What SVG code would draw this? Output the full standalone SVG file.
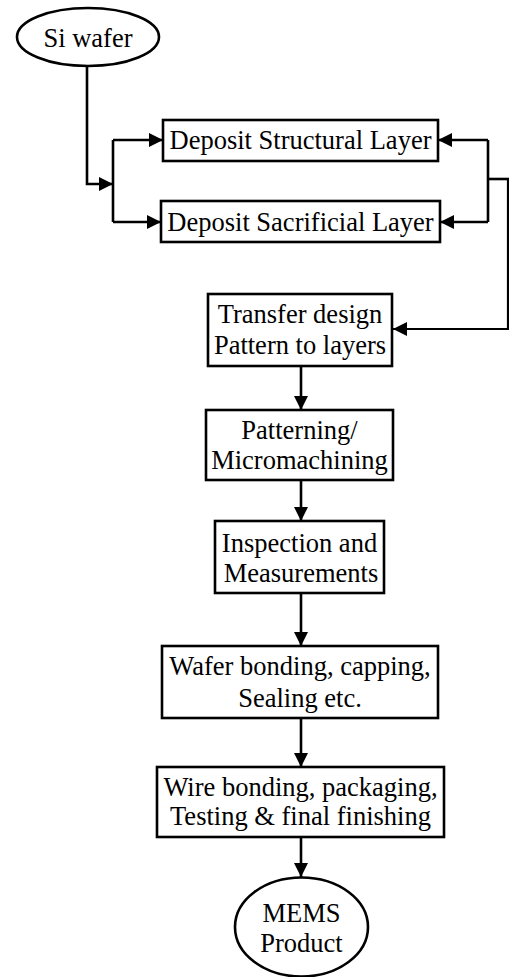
<svg xmlns="http://www.w3.org/2000/svg" width="509" height="977" viewBox="0 0 509 977">
<style>
.box{fill:#fff;stroke:#000;stroke-width:2.6}
.t{font-size:26.5px;fill:#000;text-anchor:middle}
.c{fill:none;stroke:#000;stroke-width:2.6}
</style>
<defs>
<marker id="ah" markerUnits="userSpaceOnUse" markerWidth="14" markerHeight="14" refX="14" refY="7" orient="auto">
<path d="M0,0 L14,7 L0,14 z" fill="#000"/>
</marker>
</defs>
<rect width="509" height="977" fill="#fff"/>
<g id="connectors">
<polyline class="c" points="87,66 87,184 113,184" marker-end="url(#ah)"/>
<polyline class="c" points="113,140 113,222"/>
<line class="c" x1="113" y1="140" x2="163" y2="140" marker-end="url(#ah)"/>
<line class="c" x1="113" y1="222" x2="161" y2="222" marker-end="url(#ah)"/>
<polyline class="c" points="509,179 488,179"/>
<polyline class="c" points="488,140 488,222"/>
<line class="c" x1="488" y1="140" x2="438" y2="140" marker-end="url(#ah)"/>
<line class="c" x1="488" y1="222" x2="440" y2="222" marker-end="url(#ah)"/>
<polyline class="c" points="508,179 508,329 393,329" marker-end="url(#ah)" style="stroke-width:2.2"/>
<line class="c" x1="301" y1="366" x2="301" y2="410" marker-end="url(#ah)"/>
<line class="c" x1="301" y1="480" x2="301" y2="521" marker-end="url(#ah)"/>
<line class="c" x1="301" y1="593" x2="301" y2="646" marker-end="url(#ah)"/>
<line class="c" x1="301" y1="718" x2="301" y2="767" marker-end="url(#ah)"/>
<line class="c" x1="301" y1="837" x2="301" y2="877" marker-end="url(#ah)"/>
</g>
<g font-family="Liberation Serif, Tinos, Times New Roman, DejaVu Serif, serif">
<g id="si-wafer">
<ellipse class="box" cx="88" cy="37" rx="71" ry="29"/>
<text class="t" x="88" y="47">Si wafer</text>
</g>
<g id="deposit-structural">
<rect class="box" x="163" y="120" width="275" height="41"/>
<text class="t" x="300.5" y="149">Deposit Structural Layer</text>
</g>
<g id="deposit-sacrificial">
<rect class="box" x="161" y="201" width="279" height="41"/>
<text class="t" x="300.5" y="231">Deposit Sacrificial Layer</text>
</g>
<g id="transfer">
<rect class="box" x="208" y="294" width="184" height="72"/>
<text class="t" x="300" y="323">Transfer design</text>
<text class="t" x="300" y="354">Pattern to layers</text>
</g>
<g id="patterning">
<rect class="box" x="206" y="410" width="187" height="70"/>
<text class="t" x="299.5" y="439">Patterning/</text>
<text class="t" x="299.5" y="469">Micromachining</text>
</g>
<g id="inspection">
<rect class="box" x="215" y="521" width="169" height="72"/>
<text class="t" x="299.5" y="552">Inspection and</text>
<text class="t" x="301" y="582">Measurements</text>
</g>
<g id="wafer-bonding">
<rect class="box" x="162" y="646" width="276" height="72"/>
<text class="t" x="300" y="675">Wafer bonding, capping,</text>
<text class="t" x="300" y="707">Sealing etc.</text>
</g>
<g id="wire-bonding">
<rect class="box" x="157" y="767" width="287" height="70"/>
<text class="t" x="300.5" y="796">Wire bonding, packaging,</text>
<text class="t" x="300.5" y="825">Testing &amp; final finishing</text>
</g>
<g id="mems-product">
<ellipse class="box" cx="301.5" cy="927" rx="66.5" ry="49.5"/>
<text class="t" x="301.5" y="922">MEMS</text>
<text class="t" x="301.5" y="952">Product</text>
</g>
</g>
</svg>
